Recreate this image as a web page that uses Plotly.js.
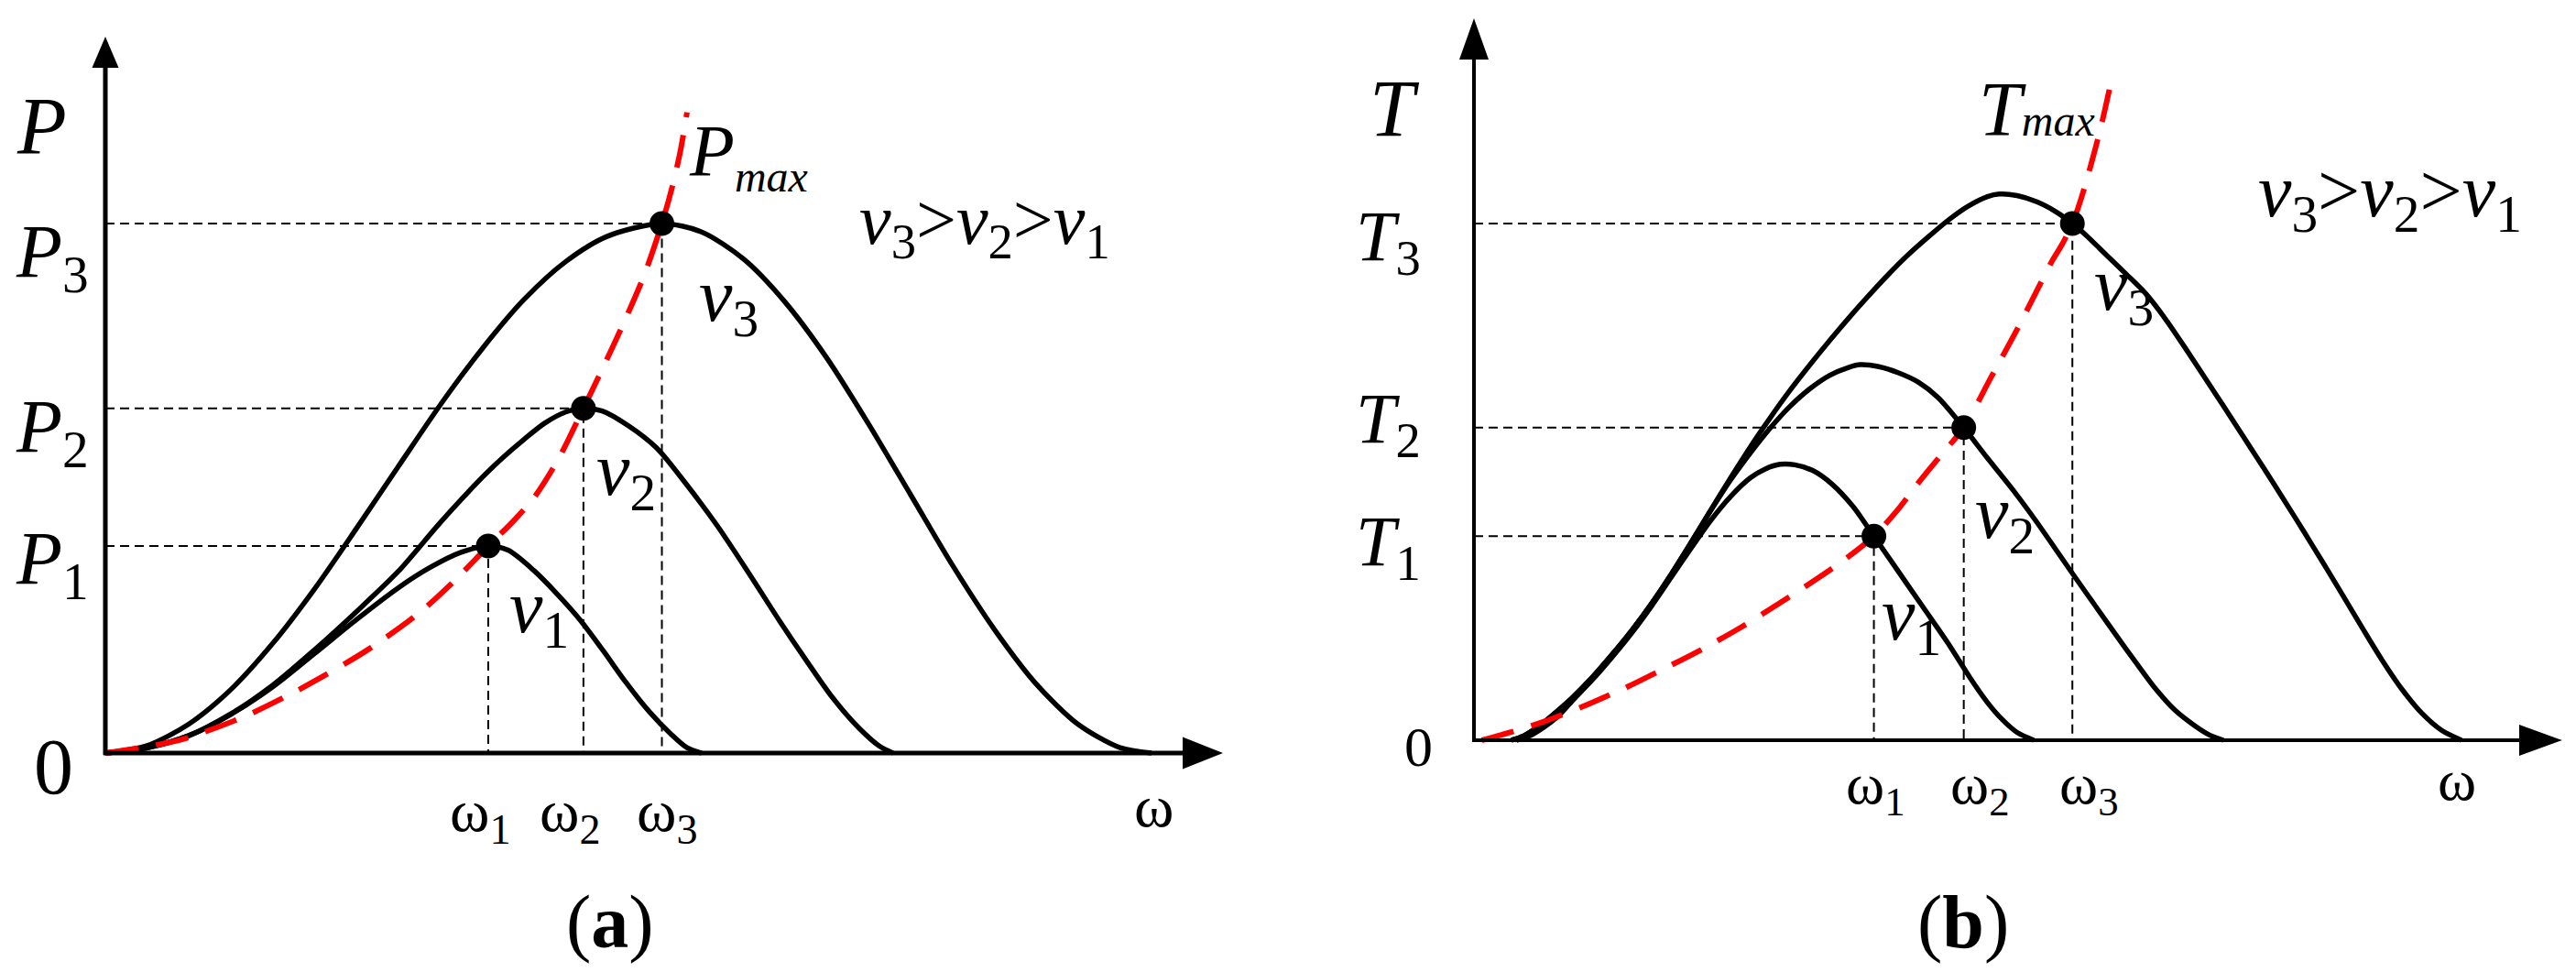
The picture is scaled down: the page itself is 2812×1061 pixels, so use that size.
<!DOCTYPE html>
<html><head><meta charset="utf-8">
<script src="https://cdn.plot.ly/plotly-3.0.1.min.js"></script>
<style>html,body{margin:0;padding:0;background:#fff}</style>
</head><body><div id="chart" style="width:2812px;height:1061px"></div>
<script>
// ================= DATA =================
// Panel (a): power P versus rotor speed omega (schematic units, P3 = 100, omega end = 100)
const omegaA = [36.6, 45.7, 53.2];          // omega1, omega2, omega3
const powerA = [39.1, 65.1, 100];           // P1, P2, P3
const omegaEndA = 100;
const v1A_x = [0, 4, 8, 12, 16, 20, 24, 28, 31, 34, 36.6, 38.5, 41, 43.2, 45.4, 47.6, 49.7, 52, 54.1, 55.6, 57.0];
const v1A_y = [0, 1.0, 3.3, 7.3, 12.5, 18.8, 25.2, 31.2, 35.0, 37.9, 39.1, 38.3, 34.4, 30.0, 25.1, 19.3, 13.5, 7.8, 3.5, 1.0, 0];
const v2A_x = [0, 4, 8, 12, 16, 20, 24, 28, 32, 36, 38, 40, 42, 44, 45.7, 47.5, 50, 52.7, 55.6, 58.5, 61.5, 64.4, 67, 69.5, 72, 74, 75.3];
const v2A_y = [0, 1.0, 3.3, 7.4, 12.8, 19.5, 26.7, 34.3, 43.5, 52.0, 55.8, 59.2, 62.3, 64.4, 65.1, 64.6, 61.8, 57.6, 50.6, 42.9, 34.0, 25.1, 17.5, 10.5, 4.8, 1.3, 0];
const v3A_x = [0, 4, 8, 12, 16, 20, 24, 28, 32, 36, 40, 44, 48, 53.2, 57, 61, 65, 69, 73, 77, 81, 85, 89, 93, 97, 100];
const v3A_y = [0, 1.4, 5.5, 12.0, 20.7, 31.0, 42.4, 54.1, 65.7, 76.3, 85.6, 92.8, 97.6, 100, 98.4, 93.3, 85.1, 74.5, 62.0, 48.7, 35.4, 23.3, 13.0, 5.4, 1.0, 0];
const pmaxA_x = [0, 4, 7.4, 13.3, 19.1, 25.0, 29.9, 33.3, 36.6, 39, 41, 43.3, 45.7, 47.5, 49.5, 51.5, 53.2, 54.2, 55.0, 55.6];
const pmaxA_y = [0, 1.2, 2.6, 6.9, 12.6, 19.4, 26.3, 32.4, 39.1, 43.8, 48.3, 55.5, 65.1, 72.5, 81.0, 90.2, 100, 107, 114, 121];

// Panel (b): torque T versus rotor speed omega (schematic units, T3 = 100, omega end = 100)
const omegaB = [40.5, 49.6, 60.6];
const torqueB = [39.5, 60.5, 100];
const omegaEndB = 100;
const v1B_x = [4.3, 5.5, 7, 8.5, 10, 12, 14, 16, 18, 20, 22, 24, 26, 28, 29.5, 31, 32.5, 34.3, 36.3, 38.4, 40.5, 43, 45.5, 48, 50.2, 52, 53.5, 55, 56.7];
const v1B_y = [0, 0.7, 2.4, 4.6, 7.7, 11.7, 16.1, 20.8, 26.0, 31.6, 37.2, 42.6, 47.2, 50.8, 52.5, 53.4, 53.3, 52.2, 49.5, 45.2, 39.5, 32.6, 25.7, 18.8, 12.2, 7.3, 4.0, 1.5, 0];
const v2B_x = [3.8, 5, 6.5, 8, 10, 12, 14, 16, 18, 20, 22, 24, 26, 28, 30, 32, 34, 36, 38, 39.1, 41, 43, 45, 47, 49.6, 52, 54.8, 57, 59, 61, 63, 65, 67.2, 69, 71, 73, 74.5, 75.9];
const v2B_y = [0, 0.8, 2.6, 4.9, 8.3, 12.2, 16.6, 21.3, 26.5, 32.2, 38.3, 44.5, 50.4, 55.6, 60.4, 64.6, 68.0, 70.6, 72.2, 72.7, 72.3, 71.1, 69.3, 66.3, 60.5, 54.6, 47.9, 42.2, 36.7, 31.2, 25.8, 20.4, 14.6, 10.0, 5.8, 2.8, 1.0, 0];
const v3B_x = [3.8, 5, 6.5, 8, 10, 12, 14, 16, 18, 20, 22, 24, 26, 28, 30, 32, 34, 36, 38, 40, 42, 44, 46, 48, 50, 52, 53.2, 55, 57, 59, 60.6, 62, 64.1, 66, 68, 70, 72, 74, 76, 78, 80, 82, 84, 86, 88, 90, 92, 94, 96, 98, 100];
const v3B_y = [0, 0.8, 2.6, 4.9, 8.3, 12.2, 16.6, 21.3, 26.5, 32.2, 38.3, 44.6, 50.8, 56.8, 62.4, 67.7, 72.6, 77.3, 81.8, 86.1, 90.2, 94.0, 97.4, 100.6, 103.3, 105.2, 105.7, 105.4, 104.2, 102.2, 100, 97.7, 93.8, 90.3, 86.5, 81.6, 76.0, 70.2, 64.4, 58.5, 52.6, 46.6, 40.5, 34.3, 28.0, 21.6, 15.4, 9.8, 5.2, 1.9, 0];
const tmaxB_x = [0.8, 4, 7.1, 11, 15.4, 19, 23, 27, 31, 34.7, 37.7, 40.5, 43, 45, 47.3, 49.6, 52.3, 55, 57, 58.5, 59.6, 60.6, 61.5, 62.5, 63.5, 64.4];
const tmaxB_y = [0, 1.7, 3.6, 6.5, 10.2, 13.6, 17.5, 21.8, 26.6, 31.2, 35.2, 39.5, 44.8, 49.8, 55.2, 60.5, 70, 79.5, 87.0, 92.6, 96.1, 100, 104.9, 111.5, 118.8, 126.4];

// Tick labels and text
const yTickLabelsA = ['<i>P</i><sub>1</sub>', '<i>P</i><sub>2</sub>', '<i>P</i><sub>3</sub>'];
const yTickLabelsB = ['<i>T</i><sub>1</sub>', '<i>T</i><sub>2</sub>', '<i>T</i><sub>3</sub>'];
const xTickLabels = ['\u03c9<sub>1</sub>', '\u03c9<sub>2</sub>', '\u03c9<sub>3</sub>'];
const xEndLabel = '\u03c9';
const curveLabels = ['<i>v</i><sub>1</sub>', '<i>v</i><sub>2</sub>', '<i>v</i><sub>3</sub>'];
const orderLabel = '<i>v</i><sub>3</sub>&gt;<i>v</i><sub>2</sub>&gt;<i>v</i><sub>1</sub>';

// ================= LAYOUT HELPERS =================
const W = 2812, H = 1061;
const X = px => px / W;
const Y = py => 1 - py / H;
const FONT = 'Liberation Serif, Times New Roman, serif';

function curve(x, y, xa, ya) {
  return {x, y, xaxis: xa, yaxis: ya, mode: 'lines', type: 'scatter', hoverinfo: 'skip',
    line: {color: '#000', width: 5.5, shape: 'spline', smoothing: 0.8}};
}
function redDash(x, y, xa, ya) {
  return {x, y, xaxis: xa, yaxis: ya, mode: 'lines', type: 'scatter', hoverinfo: 'skip',
    line: {color: '#ff0000', width: 6, dash: '36px,20px', shape: 'spline', smoothing: 0.8}};
}
function guides(om, val, xa, ya) {
  const gx = [], gy = [];
  for (let i = 0; i < om.length; i++) { gx.push(0, om[i], om[i], null); gy.push(val[i], val[i], 0, null); }
  return {x: gx, y: gy, xaxis: xa, yaxis: ya, mode: 'lines', type: 'scatter', hoverinfo: 'skip',
    line: {color: '#000', width: 2, dash: '10px,6px'}};
}
function dots(om, val, xa, ya) {
  return {x: om, y: val, xaxis: xa, yaxis: ya, mode: 'markers', type: 'scatter', hoverinfo: 'skip',
    marker: {color: '#000', size: 27}};
}

const traces = [
  guides(omegaA, powerA, 'x', 'y'),
  curve(v1A_x, v1A_y, 'x', 'y'), curve(v2A_x, v2A_y, 'x', 'y'), curve(v3A_x, v3A_y, 'x', 'y'),
  redDash(pmaxA_x, pmaxA_y, 'x', 'y'),
  dots(omegaA, powerA, 'x', 'y'),
  guides(omegaB, torqueB, 'x2', 'y2'),
  curve(v1B_x, v1B_y, 'x2', 'y2'), curve(v2B_x, v2B_y, 'x2', 'y2'), curve(v3B_x, v3B_y, 'x2', 'y2'),
  redDash(tmaxB_x, tmaxB_y, 'x2', 'y2'),
  dots(omegaB, torqueB, 'x2', 'y2')
];

// axes drawn as arrows (pixel positions of the drawing frame)
function line(x0, y0, x1, y1, w) {
  return {type: 'line', xref: 'paper', yref: 'paper', x0: X(x0), y0: Y(y0), x1: X(x1), y1: Y(y1),
    line: {color: '#000', width: w}};
}
function tri(p) {
  return {type: 'path', xref: 'paper', yref: 'paper', fillcolor: '#000', line: {width: 0},
    path: 'M' + p.map(q => X(q[0]) + ',' + Y(q[1])).join(' L') + ' Z'};
}
const shapes = [
  line(115, 824, 115, 72, 5), line(113, 822, 1293, 822, 5),
  tri([[115, 40], [100.5, 74], [129.5, 74]]), tri([[1335, 822], [1291, 804.5], [1291, 839.5]]),
  line(1609, 810, 1609, 63, 4), line(1607, 808, 2752, 808, 4),
  tri([[1609, 20], [1593, 65], [1625, 65]]), tri([[2797, 808], [2750, 791], [2750, 825]])
];

const ann = [];
function txt(text, px, py, size, extra) {
  ann.push(Object.assign({text, xref: 'paper', yref: 'paper', x: X(px), y: Y(py), showarrow: false,
    xanchor: 'center', yanchor: 'middle', font: {family: FONT, size, color: '#000'}}, extra || {}));
}
function dtxt(text, xr, yr, x, y, size, xs, ys, extra) {
  ann.push(Object.assign({text, xref: xr, yref: yr, x, y, xshift: xs, yshift: ys, showarrow: false,
    xanchor: 'center', yanchor: 'middle', font: {family: FONT, size, color: '#000'}}, extra || {}));
}

// ---- panel (a) text ----
txt('<i>P</i>', 46, 137, 88);
const pShiftA = [-19, -25, -36];
for (let i = 0; i < 3; i++) dtxt(yTickLabelsA[i], 'x', 'y', 0, powerA[i], 82, -16, pShiftA[i], {xanchor: 'right'});
dtxt('0', 'x', 'y', 0, 0, 86, -57, -15);
const wShiftA = [-8, -14, 6];
for (let i = 0; i < 3; i++) dtxt(xTickLabels[i], 'x', 'y', omegaA[i], 0, 66, wShiftA[i], -68);
dtxt(xEndLabel, 'x', 'y', omegaEndA, 0, 66, 3, -58);
txt('<i>P<sub><span style="font-size:48px">max</span></sub></i>', 750, 170, 80, {xanchor: 'left'});
txt(orderLabel, 1075, 245, 78);
txt(curveLabels[2], 795, 328, 82);
txt(curveLabels[1], 683, 518, 82);
txt(curveLabels[0], 588, 668, 82);
txt('(<b>a</b>)', 666, 1006, 82);

// ---- panel (b) text ----
txt('<i>T</i>', 1522, 118, 88);
const tShiftB = [-11, 5, -19];
for (let i = 0; i < 3; i++) dtxt(yTickLabelsB[i], 'x2', 'y2', 0, torqueB[i], 78, -56, tShiftB[i], {xanchor: 'right'});
dtxt('0', 'x2', 'y2', 0, 0, 62, -60, -7);
const wShiftB = [2, 18, 18];
for (let i = 0; i < 3; i++) dtxt(xTickLabels[i], 'x2', 'y2', omegaB[i], 0, 64, wShiftB[i], -52);
dtxt(xEndLabel, 'x2', 'y2', omegaEndB, 0, 64, -5, -44);
txt('<i>T<span style="font-size:48px">max</span></i>', 2158, 120, 84, {xanchor: 'left'});
txt(orderLabel, 2609, 214, 82);
txt(curveLabels[2], 2318, 316, 82);
txt(curveLabels[1], 2188, 565, 82);
txt(curveLabels[0], 2086, 676, 82);
txt('(<b>b</b>)', 2143, 1006, 82);

const hidden = {visible: false, showgrid: false, zeroline: false, fixedrange: true};
const layout = {
  width: W, height: H, margin: {l: 0, r: 0, t: 0, b: 0}, autosize: false,
  paper_bgcolor: '#fff', plot_bgcolor: 'rgba(0,0,0,0)', showlegend: false,
  font: {family: FONT},
  xaxis: Object.assign({domain: [0, 0.5], range: [-10.07, 113.05]}, hidden),
  yaxis: Object.assign({domain: [0, 1], range: [-41.35, 142.21]}, hidden),
  xaxis2: Object.assign({domain: [0.5, 1], range: [-18.83, 111.6], anchor: 'y2'}, hidden),
  yaxis2: Object.assign({domain: [0, 1], range: [-44.86, 143.26], anchor: 'x2'}, hidden),
  shapes, annotations: ann
};
Plotly.newPlot('chart', traces, layout, {staticPlot: true, displayModeBar: false});
</script></body></html>
